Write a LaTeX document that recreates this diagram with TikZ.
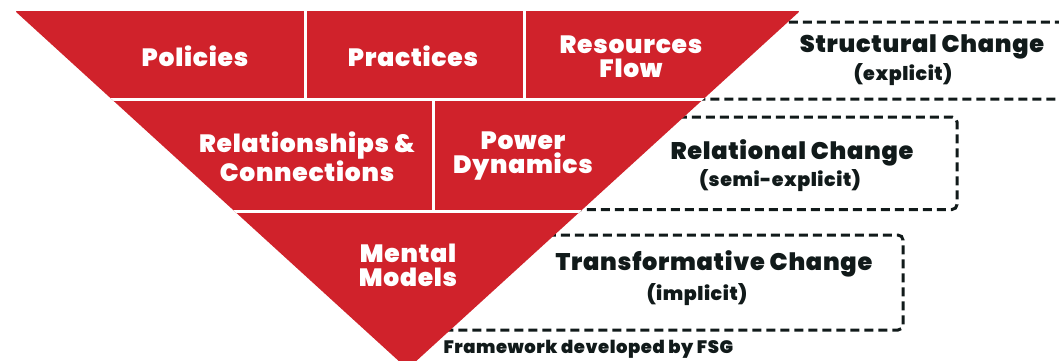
\documentclass[tikz,border=0pt]{standalone}
\usepackage{fontspec}
\setmainfont{Poppins}[BoldFont={Poppins Black}, LetterSpace=3]
\definecolor{fsgred}{RGB}{208,34,43}
\definecolor{inkdark}{RGB}{17,26,26}

\tikzset{
	block/.style={text=white, font=\bfseries\fontsize{25}{24}\selectfont, align=center},
	title/.style={text=inkdark, font=\bfseries\fontsize{24}{24}\selectfont},
	subtitle/.style={text=inkdark, font=\bfseries\fontsize{19}{19}\selectfont},
	dashbox/.style={draw=inkdark, line width=3pt, dash pattern=on 9pt off 5pt, rounded corners=5pt},
	gap/.style={draw=white, line width=3pt}
}

\begin{document}
\begin{tikzpicture}[x=1pt,y=-1pt]
	\useasboundingbox (0,0) rectangle (1059,360);
	
	% dashed boxes behind the triangle
	\draw[dashbox] (640,22) rectangle (1075,99);
	\draw[dashbox] (560,117) rectangle (957,209.5);
	\draw[dashbox] (420,235) rectangle (903,330);
	
	% the triangle
	\coordinate (tl) at (15,11);
	\coordinate (tr) at (800,11);
	\coordinate (apex) at (407.5,369);
	\fill[fsgred, rounded corners=2pt] (tl) -- (tr) -- (apex) -- cycle;
	
	\begin{scope}
		\clip (tl) -- (tr) -- (apex) -- cycle;
		\draw[gap] (0,99.5) -- (820,99.5);
		\draw[gap] (0,211.5) -- (820,211.5);
		\draw[gap] (305,0) -- (305,99.5);
		\draw[gap] (524,0) -- (524,99.5);
		\draw[gap] (433,99.5) -- (433,211.5);
	\end{scope}
	
	% labels in the triangle
	\node[block] (policies) at (195,56) {Policies};
	\node[block] (practices) at (413,56) {Practices};
	\node[block] (resflow) at (631,57) {Resources\\Flow};
	\node[block] (relations) at (307,156.5) {Relationships \&\\Connections};
	\node[block] (power) at (523,156.5) {Power\\Dynamics};
	\node[block] (mental) at (408,265) {Mental\\Models};
	
	% labels of the change levels
	\node[title] (structural) at (922,47) {Structural Change};
	\node[subtitle] (structuralsub) at (903,75) {(explicit)};
	\node[title] (relational) at (792,153) {Relational Change};
	\node[subtitle] (relationalsub) at (780,181) {(semi-explicit)};
	\node[title] (transform) at (714,264) {Transformative Change};
	\node[subtitle] (transformsub) at (697,295) {(implicit)};
	
	\node[text=inkdark, font=\bfseries\fontsize{18}{18}\selectfont, anchor=west] (source) at (440,349) {Framework developed by FSG};
	
\end{tikzpicture}
\end{document}
